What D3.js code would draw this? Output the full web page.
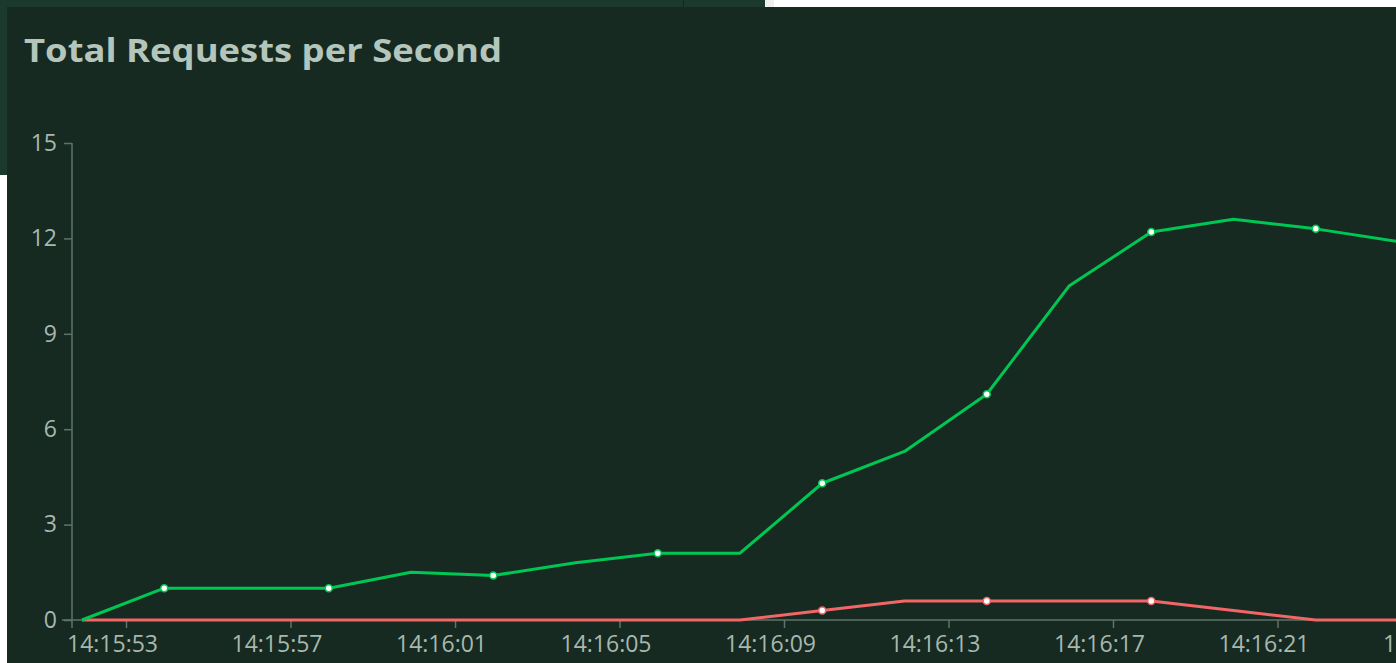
<!DOCTYPE html>
<html>
<head>
<meta charset="utf-8">
<script src="https://cdn.jsdelivr.net/npm/d3@7"></script>
<style>
  html, body { margin: 0; padding: 0; background: #ffffff; overflow: hidden; }
  svg { display: block; }
</style>
</head>
<body>
<svg id="chart" width="1396" height="663"></svg>
<script>
// Sample times (every 2 s) and the two series
const times = [
  "14:15:51.930", "14:15:53.930", "14:15:55.930", "14:15:57.930", "14:15:59.930",
  "14:16:01.930", "14:16:03.930", "14:16:05.930", "14:16:07.930", "14:16:09.930",
  "14:16:11.930", "14:16:13.930", "14:16:15.930", "14:16:17.930", "14:16:19.930",
  "14:16:21.930", "14:16:23.930"
];
const okValues   = [0, 1.0, 1.0, 1.0, 1.5, 1.4, 1.8, 2.1, 2.1, 4.3, 5.3, 7.1, 10.5, 12.2, 12.6, 12.3, 11.9];
const failValues = [0, 0, 0, 0, 0, 0, 0, 0, 0, 0.3, 0.6, 0.6, 0.6, 0.6, 0.3, 0, 0];
const xTickLabels = ["14:15:53", "14:15:57", "14:16:01", "14:16:05", "14:16:09",
                     "14:16:13", "14:16:17", "14:16:21", "14:16:25"];
const yTicks = [0, 3, 6, 9, 12, 15];

const okColor = '#00c753';
const failColor = '#f26666';
const panelColor = '#162a22';
const axisColor = '#5f7469';
const textColor = '#a8b8ae';

const parseTime = d3.timeParse("%H:%M:%S.%L");
const parseTick = d3.timeParse("%H:%M:%S");
const svg = d3.select("#chart");

// Panel behind, and the chart panel itself
svg.append("rect").attr("x", 0).attr("y", 0).attr("width", 765).attr("height", 175).attr("fill", "#1b392d");
svg.append("rect").attr("x", 683).attr("y", 0).attr("width", 1).attr("height", 7).attr("fill", "#132820");
svg.append("rect").attr("x", 765).attr("y", 0).attr("width", 9).attr("height", 7).attr("fill", "#efefed");
svg.append("rect").attr("x", 7).attr("y", 7).attr("width", 1400).attr("height", 660).attr("fill", panelColor);

svg.append("text")
    .attr("x", 24)
    .attr("y", 62)
    .attr("fill", "#b4c6bc")
    .attr("font-family", "Open Sans")
    .attr("font-weight", 700)
    .attr("font-size", 33)
    .attr("textLength", 478)
    .attr("lengthAdjust", "spacingAndGlyphs")
    .text("Total Requests per Second");

const dates = times.map(parseTime);
const x = d3.scaleTime()
    .domain(d3.extent(dates))
    .range([82, 1398]);
const y = d3.scaleLinear()
    .domain([0, 15])
    .range([620, 143]);

// Y axis
const yAxis = svg.append("g")
    .attr("transform", "translate(72,0)")
    .call(d3.axisLeft(y).tickValues(yTicks).tickSize(8).tickPadding(7));
yAxis.select(".domain").attr("d", "M0,143V628");

// X axis
const xAxis = svg.append("g")
    .attr("transform", "translate(0,620)")
    .call(d3.axisBottom(x)
        .tickValues(xTickLabels.map(parseTick))
        .tickFormat(d3.timeFormat("%H:%M:%S"))
        .tickSize(8)
        .tickPadding(8));
xAxis.select(".domain").attr("d", "M62,0H1400");
xAxis.selectAll(".tick text").attr("dx", -14);

svg.selectAll(".domain, .tick line").attr("stroke", axisColor).attr("stroke-width", 1.5);
svg.selectAll(".tick text")
    .attr("fill", textColor)
    .attr("font-family", "Open Sans")
    .attr("font-size", 23);

// Lines
const line = d3.line()
    .x((d, i) => x(dates[i]))
    .y(d => y(d));

const series = [
    { values: failValues, color: failColor },
    { values: okValues, color: okColor }
];

series.forEach(s => {
    svg.append("path")
        .datum(s.values)
        .attr("fill", "none")
        .attr("stroke", s.color)
        .attr("stroke-width", 3)
        .attr("stroke-linejoin", "round")
        .attr("d", line);
});

// Markers on every other sample
series.forEach(s => {
    svg.append("g").selectAll("circle")
        .data(s.values.map((v, i) => ({ v, i })).filter(d => d.i % 2 === 1 && d.v > 0))
        .enter()
        .append("circle")
        .attr("cx", d => x(dates[d.i]))
        .attr("cy", d => y(d.v))
        .attr("r", 3.5)
        .attr("fill", "#ffffff")
        .attr("stroke", s.color)
        .attr("stroke-width", 1.5);
});
</script>
</body>
</html>
